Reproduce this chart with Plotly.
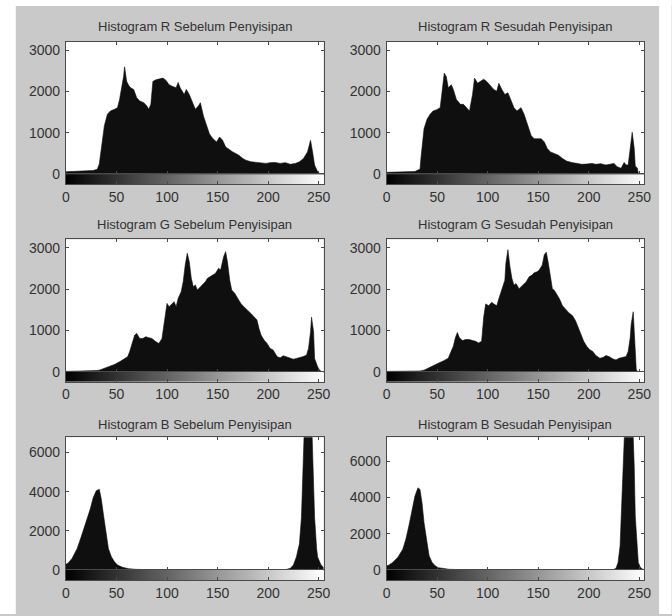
import plotly.graph_objects as go

# ---------------- data ----------------
titles = [
    "Histogram R Sebelum Penyisipan", "Histogram R Sesudah Penyisipan",
    "Histogram G Sebelum Penyisipan", "Histogram G Sesudah Penyisipan",
    "Histogram B Sebelum Penyisipan", "Histogram B Sesudah Penyisipan",
]
x_ticks = [0, 50, 100, 150, 200, 250]
y_ticks_rg = [0, 1000, 2000, 3000]
y_ticks_b = [0, 2000, 4000, 6000]
y_max = [3200, 3200, 3200, 3200, 6780, 7330]

rb_x = [0, 10, 20, 27, 31, 33, 35, 38, 41, 44, 48, 51, 53, 55, 57, 58, 60, 62, 64, 67, 70, 73, 77, 80, 82,
        84, 86, 89, 93, 96, 99, 102, 105, 109, 111, 113, 117, 119, 122, 125, 128, 131, 133, 136, 139,
        142, 145, 149, 152, 155, 158, 162, 165, 168, 171, 175, 178, 183, 188, 193, 198, 202, 207, 212,
        217, 222, 227, 231, 235, 239, 241, 242, 244, 246, 249, 252, 255]
rb_y = [60, 65, 75, 90, 120, 250, 620, 1175, 1450, 1530, 1570, 1610, 1800, 2050, 2365, 2600, 2250, 2150,
        2090, 2050, 1850, 1770, 1730, 1650, 1570, 1690, 2245, 2285, 2300, 2325, 2270, 2165, 2130, 2090,
        2220, 2090, 1930, 2050, 1930, 1770, 1570, 1650, 1730, 1410, 1175, 975, 870, 780, 900, 820, 660,
        580, 540, 500, 460, 380, 340, 300, 285, 262, 262, 280, 285, 262, 280, 240, 262, 300, 380, 540,
        700, 820, 540, 220, 60, 0, 0]

ra_x = [0, 10, 20, 28, 31, 33, 34, 35, 37, 40, 43, 46, 49, 53, 55, 57, 59, 61, 64, 66, 69, 73, 76, 79, 82,
        85, 87, 90, 93, 96, 99, 103, 106, 109, 111, 114, 117, 120, 123, 126, 129, 133, 136, 140, 143,
        146, 149, 153, 156, 159, 162, 166, 170, 174, 178, 183, 188, 193, 198, 203, 207, 212, 217, 222,
        225, 228, 232, 235, 237, 239, 241, 243, 245, 246, 248, 249, 252, 255]
ra_y = [45, 50, 55, 65, 100, 120, 400, 700, 1100, 1330, 1450, 1530, 1555, 1610, 1970, 2445, 2365, 2090,
        2165, 2050, 1810, 1690, 1690, 1610, 1530, 1930, 2325, 2200, 2245, 2300, 2245, 2130, 2050, 2010,
        2200, 2050, 1930, 1970, 1810, 1610, 1530, 1610, 1450, 1135, 935, 857, 857, 857, 780, 620, 540,
        500, 460, 380, 317, 285, 262, 240, 246, 262, 240, 254, 222, 240, 262, 183, 143, 285, 222, 222,
        620, 1015, 620, 200, 150, 25, 0, 0]

gb_x = [0, 10, 20, 30, 33, 38, 43, 48, 53, 57, 61, 63, 65, 68, 70, 73, 76, 79, 82, 85, 89, 92, 95, 98,
        100, 102, 104, 107, 109, 111, 114, 116, 118, 120, 122, 124, 126, 128, 130, 133, 135, 138, 140,
        143, 145, 148, 151, 153, 156, 158, 160, 162, 164, 167, 170, 173, 176, 180, 183, 186, 189, 191,
        193, 196, 199, 202, 205, 209, 212, 215, 218, 222, 225, 228, 231, 234, 238, 240, 242, 243, 245,
        246, 249, 251, 253, 255]
gb_y = [10, 12, 15, 30, 40, 80, 137, 177, 240, 306, 363, 484, 645, 887, 927, 806, 806, 847, 823, 806,
        726, 685, 806, 1370, 1653, 1572, 1613, 1694, 1572, 1774, 1935, 2177, 2580, 2863, 2661, 2258,
        2056, 2097, 1976, 2056, 2097, 2177, 2258, 2298, 2339, 2379, 2500, 2460, 2782, 2903, 2621, 2218,
        1976, 1895, 1774, 1653, 1572, 1492, 1411, 1331, 1250, 1048, 887, 766, 685, 565, 524, 363, 339,
        387, 363, 323, 306, 323, 339, 363, 403, 565, 968, 1320, 968, 323, 121, 40, 5, 0]

ga_x = [0, 10, 20, 33, 37, 41, 46, 51, 56, 61, 63, 66, 68, 70, 72, 75, 78, 82, 85, 88, 91, 94, 96, 98,
        101, 104, 106, 109, 111, 114, 117, 118, 120, 122, 124, 126, 128, 131, 133, 136, 138, 141, 144,
        146, 149, 151, 154, 156, 158, 160, 162, 164, 166, 168, 171, 174, 177, 180, 184, 187, 189, 192,
        195, 198, 201, 204, 207, 211, 214, 217, 220, 224, 227, 230, 233, 237, 239, 241, 242, 244, 245,
        246, 247, 249, 255]
ga_y = [10, 12, 15, 20, 40, 82, 140, 205, 262, 328, 450, 615, 820, 950, 820, 754, 779, 779, 754, 738,
        697, 738, 1311, 1640, 1598, 1680, 1640, 1598, 1762, 2008, 2213, 2623, 2950, 2541, 2254, 2090,
        2131, 2008, 2049, 2131, 2172, 2295, 2336, 2393, 2418, 2459, 2582, 2828, 2890, 2623, 2295, 2008,
        1967, 1885, 1762, 1598, 1516, 1434, 1352, 1230, 1107, 902, 738, 615, 533, 492, 393, 328, 344,
        393, 369, 311, 287, 328, 344, 369, 492, 820, 1148, 1450, 984, 246, 41, 0, 0]

bb_x = [0, 2, 6, 11, 15, 20, 24, 27, 30, 33, 35, 37, 40, 42, 45, 48, 51, 56, 62, 69, 82, 120, 160, 200,
        217, 222, 225, 228, 231, 233, 234, 235, 236, 238, 240, 242, 243, 244, 245, 246, 248, 249, 252,
        254, 255]
bb_y = [300, 350, 590, 1090, 1680, 2440, 3110, 3700, 4050, 4120, 3610, 2860, 1850, 1090, 670, 420, 250,
        135, 67, 34, 15, 10, 8, 10, 15, 84, 250, 670, 1340, 2690, 4370, 5880, 7500, 9500, 11000, 9500,
        7500, 6000, 4300, 2690, 1100, 670, 300, 170, 100]

ba_x = [0, 2, 6, 11, 16, 19, 22, 25, 28, 31, 33, 35, 37, 40, 42, 45, 48, 51, 56, 62, 75, 120, 160, 200,
        224, 227, 229, 231, 232, 234, 235, 236, 238, 240, 242, 243, 244, 245, 246, 248, 249, 251, 253,
        255]
ba_y = [240, 260, 420, 695, 1150, 1700, 2430, 3260, 4080, 4540, 4450, 3710, 2620, 1520, 790, 420, 240,
        130, 73, 37, 18, 12, 10, 12, 18, 90, 420, 1340, 2980, 5360, 7190, 8500, 10500, 12000, 10500,
        9000, 7800, 5730, 2980, 1340, 420, 146, 55, 20]

series = [(rb_x, rb_y), (ra_x, ra_y), (gb_x, gb_y), (ga_x, ga_y), (bb_x, bb_y), (ba_x, ba_y)]
levels = list(range(256))

# ---------------- layout geometry (pixels) ----------------
W, H = 672, 616
col_px = [(63, 325), (389, 651)]
row_px = [(42.5, 176.5, 186.5, 27), (242.5, 376.7, 386.7, 227), (443, 577.5, 588, 430)]
FONT = "Liberation Sans, Arial, sans-serif"
LINE = "#4a4a4a"
TXT = "#333333"

fig = go.Figure()
layout = {}
annotations = []

for i in range(6):
    row, col = divmod(i, 2)
    xs, ys = series[i]
    n = min(len(xs), len(ys))
    h, c = 2 * i + 1, 2 * i + 2
    hx, hy = ("x", "y") if h == 1 else (f"x{h}", f"y{h}")
    cx, cy = f"x{c}", f"y{c}"
    x0, x1 = col_px[col]
    top, mid, bot, ty = row_px[row]
    xd = [x0 / W, x1 / W]

    fig.add_trace(go.Scatter(
        x=xs[:n], y=ys[:n], mode="lines", fill="tozeroy",
        fillcolor="#0f0f0f", line=dict(color="#0f0f0f", width=0.6),
        xaxis=hx, yaxis=hy, hoverinfo="skip", showlegend=False))
    fig.add_trace(go.Heatmap(
        x=levels, y=[0], z=[levels], zmin=0, zmax=255,
        colorscale=[[0, "black"], [1, "white"]], showscale=False,
        xaxis=cx, yaxis=cy, hoverinfo="skip"))

    yt = y_ticks_rg if row < 2 else y_ticks_b
    layout["xaxis" if h == 1 else f"xaxis{h}"] = dict(
        domain=xd, range=[0, 255], anchor=hy, tickvals=x_ticks, showticklabels=False,
        ticks="inside", ticklen=3, tickcolor=LINE, showline=True, linecolor=LINE,
        linewidth=1, mirror="ticks", showgrid=False, zeroline=False, fixedrange=True)
    layout["yaxis" if h == 1 else f"yaxis{h}"] = dict(
        domain=[1 - mid / H, 1 - top / H], range=[0, y_max[i]], anchor=hx,
        tickvals=yt, ticktext=[str(v) for v in yt], ticks="inside", ticklen=3,
        tickcolor=LINE, showline=True, linecolor=LINE, linewidth=1, mirror="ticks",
        showgrid=False, zeroline=False, tickfont=dict(size=14, color=TXT, family=FONT),
        ticklabelstandoff=2, fixedrange=True)
    layout[f"xaxis{c}"] = dict(
        domain=xd, range=[0, 255], anchor=cy, tickvals=x_ticks,
        ticktext=[str(v) for v in x_ticks], ticks="inside", ticklen=3, tickcolor=LINE,
        showline=True, linecolor=LINE, linewidth=1, mirror=True, showgrid=False,
        zeroline=False, tickfont=dict(size=14, color=TXT, family=FONT), fixedrange=True)
    layout[f"yaxis{c}"] = dict(
        domain=[1 - bot / H, 1 - mid / H], range=[-0.5, 0.5], anchor=cx,
        showticklabels=False, ticks="", showline=True, linecolor=LINE, linewidth=1,
        mirror=True, showgrid=False, zeroline=False, fixedrange=True)

    annotations.append(dict(
        text=titles[i], x=(x0 + x1) / 2 / W, y=1 - ty / H, xref="paper", yref="paper",
        xanchor="center", yanchor="middle", showarrow=False,
        font=dict(size=13, color=TXT, family=FONT)))

shapes = [
    dict(type="rect", xref="paper", yref="paper", x0=-0.01, x1=12 / W, y0=-0.01, y1=1.01,
         fillcolor="white", line=dict(width=0), layer="below"),
    dict(type="rect", xref="paper", yref="paper", x0=-0.01, x1=1.01, y0=1 - 6 / H, y1=1.01,
         fillcolor="white", line=dict(width=0), layer="below"),
    dict(type="rect", xref="paper", yref="paper", x0=666 / W, x1=1.01, y0=-0.01, y1=1.01,
         fillcolor="white", line=dict(width=0), layer="below"),
]

fig.update_layout(
    width=W, height=H, margin=dict(l=0, r=0, t=0, b=0, pad=0),
    paper_bgcolor="#c9c9c9", plot_bgcolor="white",
    font=dict(family=FONT, color=TXT), showlegend=False,
    annotations=annotations, shapes=shapes, **layout)

fig.write_html(
    "out.html",
    config={"displayModeBar": False, "staticPlot": True},
    post_script="document.body.style.margin='0';document.body.style.padding='0';"
                "document.body.style.overflow='hidden';")
